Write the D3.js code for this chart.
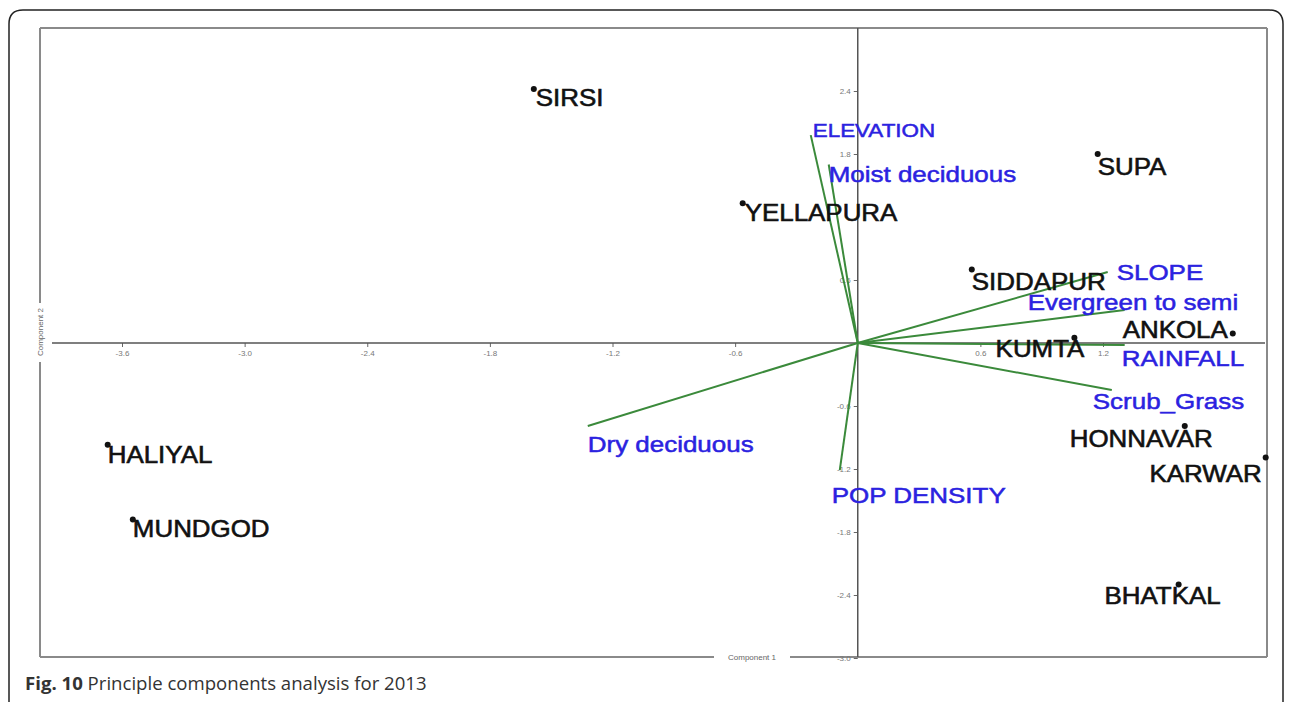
<!DOCTYPE html>
<html>
<head>
<meta charset="utf-8">
<script src="https://cdn.jsdelivr.net/npm/d3@7"></script>
<style>
  body { margin: 0; background: #fff; }
  svg { display: block; }
</style>
</head>
<body>
<div id="chart"></div>
<script>
// site scores (component 1, component 2)
let sites = ["SIRSI", "YELLAPURA", "SUPA", "SIDDAPUR", "ANKOLA", "KUMTA", "HONNAVAR", "KARWAR", "BHATKAL", "HALIYAL", "MUNDGOD"];
let siteX = [-1.585, -0.563, 1.174, 0.558, 1.835, 1.060, 1.600, 1.996, 1.570, -3.670, -3.547];
let siteY = [2.42, 1.33, 1.80, 0.70, 0.09, 0.05, -0.79, -1.09, -2.30, -0.97, -1.68];

// variable loadings
let vars = ["ELEVATION", "Moist deciduous", "SLOPE", "Evergreen to semi", "RAINFALL", "Scrub_Grass", "Dry deciduous", "POP DENSITY"];
let loadX = [-0.23, -0.142, 1.223, 1.306, 1.306, 1.243, -1.321, -0.088];
let loadY = [1.98, 1.70, 0.676, 0.314, -0.02, -0.448, -0.79, -1.21];

let xTicks = [-3.6, -3.0, -2.4, -1.8, -1.2, -0.6, 0.6, 1.2];
let yTicks = [-3.0, -2.4, -1.8, -1.2, -0.6, 0.6, 1.8, 2.4];

// label placement, relative to the point / arrow tip
let siteLabel = {
  SIRSI: [2, 17, "start"], YELLAPURA: [2, 18, "start"], SUPA: [0, 21, "start"],
  SIDDAPUR: [0, 20, "start"], ANKOLA: [-5, 4, "end"], KUMTA: [10, 19, "end"],
  HONNAVAR: [28, 21, "end"], KARWAR: [-4, 25, "end"], BHATKAL: [42, 19, "end"],
  HALIYAL: [0, 18, "start"], MUNDGOD: [0, 18, "start"]
};
let varLabel = {
  "ELEVATION": [2, 2, 19], "Moist deciduous": [0, 17, 22], "SLOPE": [9, 8, 22],
  "Evergreen to semi": [-97, 0, 22], "RAINFALL": [-3, 21, 22], "Scrub_Grass": [-19, 19, 22],
  "Dry deciduous": [0, 26, 22], "POP DENSITY": [-8, 33, 22]
};

let width = 1292, height = 702;
let frame = { left: 40, right: 1267, top: 28, bottom: 657 };

let svg = d3.select("#chart").append("svg")
            .attr("width", width)
            .attr("height", height);

// outer card
svg.append("path")
   .attr("d", "M9,720 L9,24 Q9,10 23,10 L1269,10 Q1283,10 1283,24 L1283,720")
   .attr("fill", "none")
   .attr("stroke", "#222")
   .attr("stroke-width", 1.5);

let xscale = d3.scaleLinear().domain([-3.6, 1.2]).range([122, 1103]);
let yscale = d3.scaleLinear().domain([-3.0, 2.4]).range([658, 91]);

// plot frame with gaps for axis titles
let fg = "#8a8a8a";
let frameSegs = [
  [frame.left, frame.top, frame.right, frame.top],
  [frame.right, frame.top, frame.right, frame.bottom],
  [frame.left, frame.bottom, 714, frame.bottom],
  [790, frame.bottom, frame.right, frame.bottom],
  [frame.left, frame.top, frame.left, 303],
  [frame.left, 362, frame.left, frame.bottom]
];
svg.selectAll("line.frame").data(frameSegs).enter().append("line")
   .attr("class", "frame")
   .attr("x1", d => d[0]).attr("y1", d => d[1])
   .attr("x2", d => d[2]).attr("y2", d => d[3])
   .attr("stroke", fg).attr("stroke-width", 2);

svg.append("text").text("Component 1")
   .attr("x", 752).attr("y", frame.bottom + 3)
   .attr("text-anchor", "middle")
   .attr("font-family", "Liberation Sans, Arial, sans-serif")
   .attr("font-size", 8).attr("fill", "#666");

svg.append("text").text("Component 2")
   .attr("transform", `translate(${frame.left + 3},332) rotate(-90)`)
   .attr("text-anchor", "middle")
   .attr("font-family", "Liberation Sans, Arial, sans-serif")
   .attr("font-size", 8).attr("fill", "#666");

// axes through the origin
let fmt = d => d.toFixed(1);
let xaxis = svg.append("g")
   .attr("transform", `translate(0,${yscale(0)})`)
   .call(d3.axisBottom(xscale).tickValues(xTicks).tickSize(4).tickFormat(fmt));
xaxis.select(".domain").remove();
xaxis.append("line")
   .attr("x1", 52).attr("x2", 1265)
   .attr("stroke", "#555").attr("stroke-width", 1.5);

let yaxis = svg.append("g")
   .attr("transform", `translate(${xscale(0)},0)`)
   .call(d3.axisLeft(yscale).tickValues(yTicks).tickSize(4).tickFormat(fmt));
yaxis.select(".domain").remove();
yaxis.append("line")
   .attr("y1", frame.top).attr("y2", frame.bottom)
   .attr("stroke", "#555").attr("stroke-width", 1.5);

svg.selectAll(".tick line").attr("stroke", "#666");
svg.selectAll(".tick text")
   .attr("font-family", "Liberation Sans, Arial, sans-serif")
   .attr("font-size", 8)
   .attr("fill", "#777");

// loading vectors
let vecs = vars.map((v, i) => ({ name: v, x: loadX[i], y: loadY[i] }));
svg.selectAll("line.vec").data(vecs).enter().append("line")
   .attr("class", "vec")
   .attr("x1", xscale(0)).attr("y1", yscale(0))
   .attr("x2", d => xscale(d.x)).attr("y2", d => yscale(d.y))
   .attr("stroke", "#3b8a3b")
   .attr("stroke-width", 2);

// site points
let pts = sites.map((s, i) => ({ name: s, x: siteX[i], y: siteY[i] }));
svg.selectAll("circle").data(pts).enter().append("circle")
   .attr("cx", d => xscale(d.x)).attr("cy", d => yscale(d.y))
   .attr("r", 3)
   .attr("fill", "#111");

svg.selectAll("text.site").data(pts).enter().append("text")
   .attr("class", "site")
   .text(d => d.name)
   .attr("text-anchor", d => siteLabel[d.name][2])
   .attr("transform", d => `translate(${xscale(d.x) + siteLabel[d.name][0]},${yscale(d.y) + siteLabel[d.name][1]}) scale(1.08,1)`)
   .attr("font-family", "Liberation Sans, Arial, sans-serif")
   .attr("font-size", 24)
   .attr("fill", "#111")
   .attr("stroke", "#111")
   .attr("stroke-width", 0.6);

svg.selectAll("text.var").data(vecs).enter().append("text")
   .attr("class", "var")
   .text(d => d.name)
   .attr("transform", d => `translate(${xscale(d.x) + varLabel[d.name][0]},${yscale(d.y) + varLabel[d.name][1]}) scale(1.18,1)`)
   .attr("font-family", "Liberation Sans, Arial, sans-serif")
   .attr("font-size", d => varLabel[d.name][2])
   .attr("fill", "#2b22e0")
   .attr("stroke", "#2b22e0")
   .attr("stroke-width", 0.5);

// caption
let cap = svg.append("text")
   .attr("x", 25).attr("y", 690)
   .attr("font-family", "Open Sans, Noto Sans, sans-serif")
   .attr("font-size", 18.6)
   .attr("fill", "#333");
cap.append("tspan").text("Fig. 10").attr("font-weight", "bold");
cap.append("tspan").text(" Principle components analysis for 2013");
</script>
</body>
</html>
